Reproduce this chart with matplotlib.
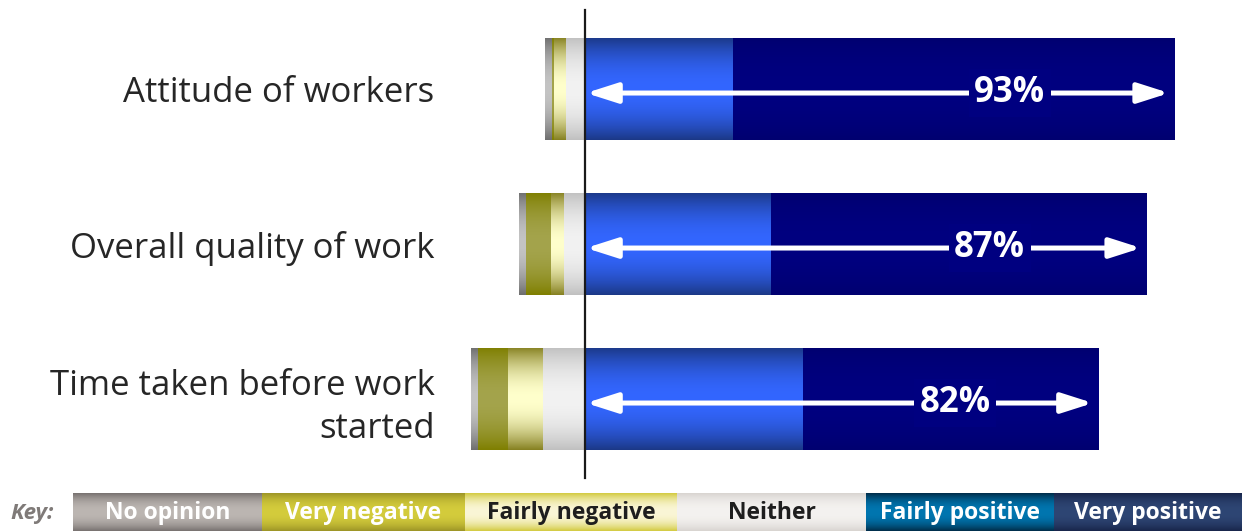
import numpy as np
import matplotlib
matplotlib.use("Agg")
import matplotlib.pyplot as plt
from matplotlib.colors import to_rgb
from matplotlib.patches import Rectangle, FancyArrowPatch

# ---------------- data ----------------
categories = ["Attitude of workers", "Overall quality of work", "Time taken before work\nstarted"]
no_opinion = [1.1, 1.1, 1.1]
very_negative = [0.2, 3.8, 4.7]
fairly_negative = [2.0, 2.2, 5.4]
neither = [3.0, 3.3, 6.8]
fairly_positive = [23.3, 29.3, 34.3]
very_positive = [69.6, 59.2, 46.6]
positive_labels = [93, 87, 82]

key_labels = ["No opinion", "Very negative", "Fairly negative", "Neither", "Fairly positive", "Very positive"]

# ---------------- styles ----------------
bar_grad = {  # (edge, centre)
    "no": ("#6e6e6e", "#c4c4c4"),
    "vn": ("#7f7f00", "#a4a44c"),
    "fn": ("#858020", "#ffffcc"),
    "ne": ("#c0c0c0", "#f2f2f2"),
    "fp": ("#1b3886", "#3366ff"),
    "vp": ("#000070", "#000080"),
}
key_grad = [
    ("#77716f", "#bcb6b2"),
    ("#9c9426", "#d4cc3c"),
    ("#d2ca3e", "#faf6d6"),
    ("#d8d4d0", "#f4f2f0"),
    ("#002c48", "#0076b0"),
    ("#18254a", "#2e4674"),
]
key_text_colors = ["white", "white", "#1e1e1e", "#1e1e1e", "white", "white"]
key_edges = [73, 262, 465, 677, 866, 1054, 1242]


def gradient(edge, centre, n=256, p=2.0):
    e = np.array(to_rgb(edge))
    c = np.array(to_rgb(centre))
    s = np.linspace(0, 1, n)
    t = 1 - np.abs(2 * s - 1) ** p
    return (e[None, :] + (c - e)[None, :] * t[:, None])[:, None, :]


W, H = 1245, 531
fig = plt.figure(figsize=(W / 100, H / 100), dpi=100)

ax_l, ax_top, ax_bot = 440, 0, 480
ax = fig.add_axes([ax_l / W, 1 - ax_bot / H, (W - ax_l) / W, (ax_bot - ax_top) / H])
px_per = 6.35
zero_px = 585
xlim = (-(zero_px - ax_l) / px_per, (W - zero_px) / px_per)
row_px = 155
c0 = 89
ylim = ((ax_bot - c0) / row_px, (ax_top - c0) / row_px)

y = np.arange(len(categories))
h = 0.66

neg1 = np.array(neither)
neg2 = neg1 + np.array(fairly_negative)
neg3 = neg2 + np.array(very_negative)

segments = [
    ("ne", -np.array(neither), np.zeros(3)),
    ("fn", -np.array(fairly_negative), -neg1),
    ("vn", -np.array(very_negative), -neg2),
    ("no", -np.array(no_opinion), -neg3),
    ("fp", np.array(fairly_positive), np.zeros(3)),
    ("vp", np.array(very_positive), np.array(fairly_positive)),
]

for key, widths, lefts in segments:
    edge, centre = bar_grad[key]
    bars = ax.barh(y, widths, left=lefts, height=h, color=edge, edgecolor="none", zorder=2)
    img = gradient(edge, centre)
    for patch in bars:
        bb = patch.get_bbox()
        im = ax.imshow(img, extent=[bb.x0, bb.x1, bb.y0, bb.y1], aspect="auto",
                       interpolation="bilinear", zorder=3)
        im.set_clip_path(patch)

# arrows and labels
tot_pos = np.array(fairly_positive) + np.array(very_positive)
label_frac = 0.72
for yi, tp, lab in zip(y, tot_pos, positive_labels):
    ya = yi + 0.026
    arr = FancyArrowPatch((0.15, ya), (tp - 0.9, ya),
                          arrowstyle="<|-|>,head_length=0.94,head_width=0.3",
                          mutation_scale=20, color="white", lw=3.6,
                          shrinkA=0, shrinkB=0, zorder=6)
    ax.add_patch(arr)
    ax.text(label_frac * tp, ya, f"{lab}%", color="white", fontsize=25, fontweight="bold",
            family=["Open Sans", "DejaVu Sans"], ha="center", va="center", zorder=7,
            bbox=dict(facecolor=bar_grad["vp"][1], edgecolor="none", pad=4))

ax.axvline(0, ymin=(ax_bot - 478) / (ax_bot - ax_top), ymax=(ax_bot - 10) / (ax_bot - ax_top),
           color="#1a1a1a", lw=1.6, zorder=8)

ax.set_xlim(*xlim)
ax.set_ylim(*ylim)
ax.set_yticks(y)
ax.set_yticklabels(categories, fontsize=25, color="#262626", family=["Open Sans", "DejaVu Sans"],
                   linespacing=1.33)
ax.tick_params(axis="y", length=0, pad=4)
ax.set_xticks([])
for s in ax.spines.values():
    s.set_visible(False)

# ---------------- key ----------------
kax = fig.add_axes([0, 0, 1, (H - 493) / H])
kax.set_xlim(0, W)
kax.set_ylim(0, 1)
kax.axis("off")
kax.text(32, 0.47, "Key:", fontsize=16, fontweight="bold", fontstyle="italic",
         color="#7f7a78", ha="center", va="center", family=["Open Sans", "DejaVu Sans"])
for i, lab in enumerate(key_labels):
    x0, x1 = key_edges[i], key_edges[i + 1]
    edge, centre = key_grad[i]
    r = Rectangle((x0, 0), x1 - x0, 1, facecolor=edge, edgecolor="none", zorder=1)
    kax.add_patch(r)
    im = kax.imshow(gradient(edge, centre, p=2.2), extent=[x0, x1, 0, 1], aspect="auto",
                    interpolation="bilinear", zorder=2)
    im.set_clip_path(r)
    kax.text((x0 + x1) / 2, 0.47, lab, fontsize=16.5, fontweight="bold", color=key_text_colors[i],
             ha="center", va="center", family=["Open Sans", "DejaVu Sans"], zorder=3)
kax.set_xlim(0, W)
kax.set_ylim(0, 1)

fig.savefig("out.png", dpi=100)
